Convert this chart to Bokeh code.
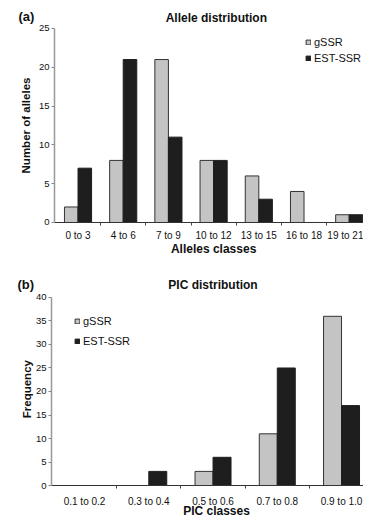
import math
from bokeh.plotting import figure
from bokeh.layouts import column
from bokeh.models import (ColumnDataSource, Range1d, FixedTicker, Label,
                          Legend, LegendItem)
from bokeh.transform import dodge
from bokeh.embed import file_html
from bokeh.resources import INLINE

# ---- data ----
allele_classes = ["0 to 3", "4 to 6", "7 to 9", "10 to 12", "13 to 15", "16 to 18", "19 to 21"]
allele_gssr = [2, 8, 21, 8, 6, 4, 1]
allele_est = [7, 21, 11, 8, 3, 0, 1]
allele_yticks = [0, 5, 10, 15, 20, 25]

pic_classes = ["0.1 to 0.2", "0.3 to 0.4", "0.5 to 0.6", "0.7 to 0.8", "0.9 to 1.0"]
pic_gssr = [0, 0, 3, 11, 36]
pic_est = [0, 3, 6, 25, 17]
pic_yticks = [0, 5, 10, 15, 20, 25, 30, 35, 40]

FONT = "Liberation Sans"
GRAY = "#c4c4c4"
DARK = "#1e1e1e"
TXT = "#111111"
W = 363


def panel(classes, gssr, est, yticks, ymax, h, xr, yr, y_axis_at, x_end,
          dw, x_std, letter, letter_xy, title, title_xy, xlabel, xlabel_xy,
          ylabel, ylabel_xy, legend_loc, legend_row):
    n = len(classes)
    src = ColumnDataSource(dict(idx=list(range(n)), cat=classes, gssr=gssr, est=est))
    p = figure(width=W, height=h, output_backend="svg", toolbar_location=None,
               x_range=Range1d(*xr), y_range=Range1d(*yr),
               min_border_left=0, min_border_right=0, min_border_top=0,
               min_border_bottom=0)
    p.outline_line_color = None
    p.xgrid.visible = False
    p.ygrid.visible = False

    r1 = p.vbar(x=dodge("idx", -dw / 2, range=p.x_range), top="gssr", width=dw,
                source=src, fill_color=GRAY, line_color="#333333", line_width=1)
    r2 = p.vbar(x=dodge("idx", dw / 2, range=p.x_range), top="est", width=dw,
                source=src, fill_color=DARK, line_color=DARK, line_width=1)

    # x axis (drawn at y = 0)
    xa = p.xaxis[0]
    xa.fixed_location = 0
    xa.bounds = (y_axis_at, x_end)
    xa.ticker = FixedTicker(ticks=list(range(n)), minor_ticks=[i + 0.5 for i in range(n)])
    xa.major_label_overrides = {i: c for i, c in enumerate(classes)}
    xa.major_tick_line_color = None
    xa.major_tick_in = 0
    xa.major_tick_out = 0
    xa.minor_tick_in = 0
    xa.minor_tick_out = 3
    xa.minor_tick_line_color = "#444444"
    xa.axis_line_color = "#333333"
    xa.axis_line_width = 1.2
    xa.major_label_text_font = FONT
    xa.major_label_text_font_size = "10px"
    xa.major_label_text_color = TXT
    xa.major_label_standoff = x_std

    # y axis (drawn at the left edge of the first class)
    ya = p.yaxis[0]
    ya.fixed_location = y_axis_at
    ya.bounds = (0, ymax)
    ya.ticker = FixedTicker(ticks=yticks, minor_ticks=[])
    ya.major_tick_in = 0
    ya.major_tick_out = 3
    ya.major_tick_line_color = "#888888"
    ya.axis_line_color = "#999999"
    ya.axis_line_width = 1.5
    ya.major_label_text_font = FONT
    ya.major_label_text_font_size = "9.5px"
    ya.major_label_text_color = TXT
    ya.major_label_standoff = 2

    def lab(xy, text, size, align="center", angle=0.0):
        p.add_layout(Label(x=xy[0], y=xy[1], text=text, angle=angle,
                           text_font=FONT, text_font_style="bold",
                           text_font_size=size, text_align=align,
                           text_baseline="middle", text_color=TXT))

    lab(title_xy, title, "12px")
    lab(letter_xy, letter, "13px", align="left")
    lab(xlabel_xy, xlabel, "12px")
    lab(ylabel_xy, ylabel, "11.5px", angle=math.pi / 2)

    leg = Legend(items=[LegendItem(label="gSSR", renderers=[r1]),
                        LegendItem(label="EST-SSR", renderers=[r2])],
                 location=legend_loc, glyph_width=6, glyph_height=6,
                 label_text_font=FONT, label_text_font_size="11px",
                 label_text_color=TXT, label_standoff=3,
                 label_height=legend_row, spacing=0, padding=0, margin=0,
                 border_line_color=None, background_fill_alpha=0)
    p.add_layout(leg)
    return p


pa = panel(allele_classes, allele_gssr, allele_est, allele_yticks, 25,
           260, (-1.715, 6.316), (-4.897, 28.608), -0.52, 6.52,
           0.3, 5, "(a)", (-1.317, 26.546), "Allele distribution", (3.06, 26.417),
           "Alleles classes", (3.0, -3.351), "Number of alleles", (-1.140, 12.5),
           (305, 194), 16)
pb = panel(pic_classes, pic_gssr, pic_est, pic_yticks, 40,
           258, (-1.308, 4.342), (-7.021, 47.872), -0.514, 4.622,
           0.28, 7, "(b)", (-1.043, 42.766), "PIC distribution", (2.0, 42.553),
           "PIC classes", (2.054, -5.53), "Frequency", (-0.888, 20.5),
           (74, 167.5), 20)

layout = column(pa, pb, spacing=0)
open("out.html", "w").write(file_html(layout, INLINE))
